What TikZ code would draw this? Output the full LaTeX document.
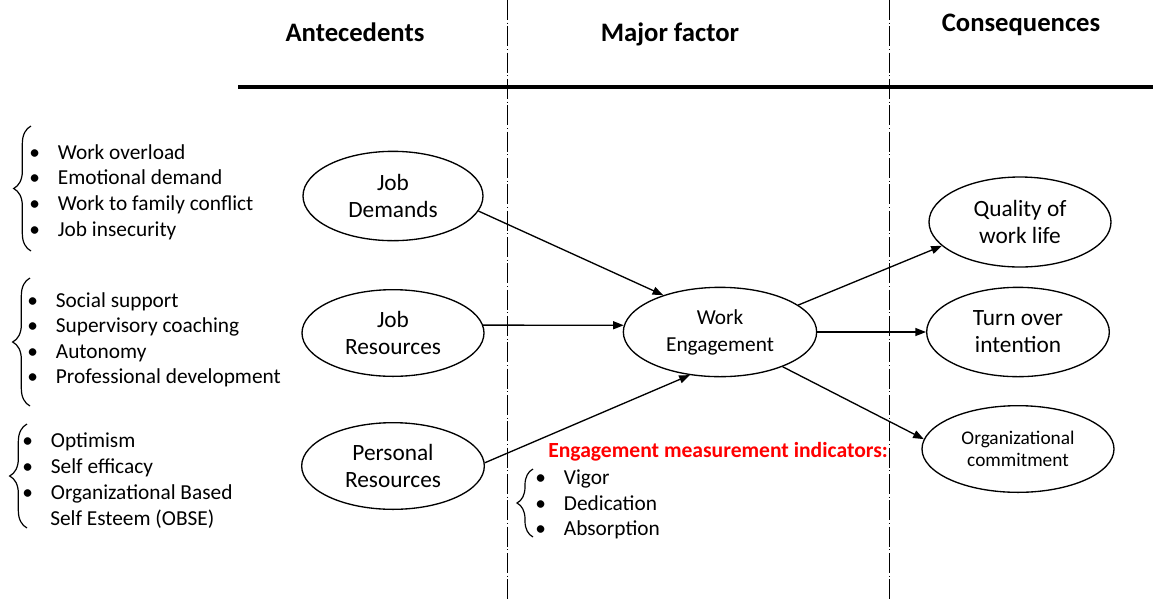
\documentclass[tikz,border=0pt]{standalone}
\usepackage{fontspec}
\setmainfont{Carlito}
\usetikzlibrary{shapes.geometric,arrows.meta,decorations.pathreplacing}

\newcommand\itm[1]{\makebox[21.5pt][l]{\textbullet}#1}

\tikzset{
  oval/.style={ellipse, draw, line width=1pt, inner sep=0pt, align=center,
    font=\fontsize{17.5}{20.3}\selectfont},
  conn/.style={line width=1pt, -{Triangle[length=8pt,width=6pt]}},
  divider/.style={line width=0.7pt, dash pattern=on 15pt off 2pt on 0.75pt off 2pt},
  heading/.style={anchor=base, font=\fontsize{20}{24}\selectfont\bfseries, inner sep=0pt},
  item/.style={anchor=base west, font=\fontsize{16}{19}\selectfont, inner sep=0pt},
  curly/.style={decorate, decoration={brace, amplitude=13pt}, line width=0.9pt},
}

\begin{document}
\begin{tikzpicture}[x=0.75pt,y=-0.75pt]
\useasboundingbox (0,0) rectangle (1153,601);

% column dividers and header rule
\coordinate (d1t) at (507,0);   \coordinate (d1b) at (507,601);
\coordinate (d2t) at (889,0);   \coordinate (d2b) at (889,601);
\draw[divider] (d1t) -- (d1b);
\draw[divider] (d2t) -- (d2b);
\coordinate (rl) at (238,87);   \coordinate (rr) at (1153,87);
\draw[line width=2.3pt] (rl) -- (rr);

% column headings
\node[heading] (hA) at (355,41) {Antecedents};
\node[heading] (hM) at (670,41) {Major factor};
\node[heading] (hC) at (1021,31) {Consequences};

% ovals
\node[oval, minimum width=135pt, minimum height=67pt] (jd) at (393,196) {Job\\Demands};
\node[oval, minimum width=136.5pt, minimum height=65pt] (jr) at (393,333) {Job\\Resources};
\node[oval, minimum width=137pt, minimum height=65pt] (pr) at (393,466) {Personal\\Resources};
\node[oval, minimum width=145pt, minimum height=67pt,
      font=\fontsize{16}{20.3}\selectfont] (we) at (720,332) {Work\\Engagement};
\node[oval, minimum width=136.5pt, minimum height=67.5pt] (ql) at (1020,222) {Quality of\\work life};
\node[oval, minimum width=137pt, minimum height=67pt] (ti) at (1018,332) {Turn over\\intention};
\node[oval, minimum width=144pt, minimum height=65pt,
      font=\fontsize{14.5}{16.5}\selectfont] (oc) at (1018,449) {Organizational\\commitment};

% connectors
\draw[conn] (jd.-10) -- (we.147);
\draw[conn] (jr.5) -- (we.176);
\draw[conn] (pr.2) -- (we.235);
\draw[conn] (we.19) -- (ql.197);
\draw[conn] (we.0) -- (ti.180);
\draw[conn] (we.-29) -- (oc.174);

% job demands list
\node[item] (a1) at (29,159) {\itm{Work overload}};
\node[item] (a2) at (29,184) {\itm{Emotional demand}};
\node[item] (a3) at (29,210) {\itm{Work to family conflict}};
\node[item] (a4) at (29,236) {\itm{Job insecurity}};
\coordinate (b1s) at (31,251); \coordinate (b1e) at (31,126);
\draw[curly] (b1s) -- (b1e);

% job resources list
\node[item] (b1) at (27,307) {\itm{Social support}};
\node[item] (b2) at (27,332) {\itm{Supervisory coaching}};
\node[item] (b3) at (27,358) {\itm{Autonomy}};
\node[item] (b4) at (27,383) {\itm{Professional development}};
\coordinate (b2s) at (30,406); \coordinate (b2e) at (30,278);
\draw[curly] (b2s) -- (b2e);

% personal resources list
\node[item] (c1) at (22,447) {\itm{Optimism}};
\node[item] (c2) at (22,473) {\itm{Self efficacy}};
\node[item] (c3) at (22,499) {\itm{Organizational Based}};
\node[item] (c4) at (50,525) {Self Esteem (OBSE)};
\coordinate (b3s) at (27,528); \coordinate (b3e) at (27,424);
\draw[curly] (b3s) -- (b3e);

% engagement indicators
\node[anchor=base west, inner sep=0pt, text=red,
      font=\fontsize{16.2}{19}\selectfont\bfseries] (ei) at (548,457) {Engagement measurement indicators:};
\node[item] (e1) at (535,484) {\itm{Vigor}};
\node[item] (e2) at (535,510) {\itm{Dedication}};
\node[item] (e3) at (535,535) {\itm{Absorption}};
\coordinate (b4s) at (533,537); \coordinate (b4e) at (533,469);
\draw[curly, decoration={amplitude=12pt}] (b4s) -- (b4e);
\end{tikzpicture}
\end{document}
